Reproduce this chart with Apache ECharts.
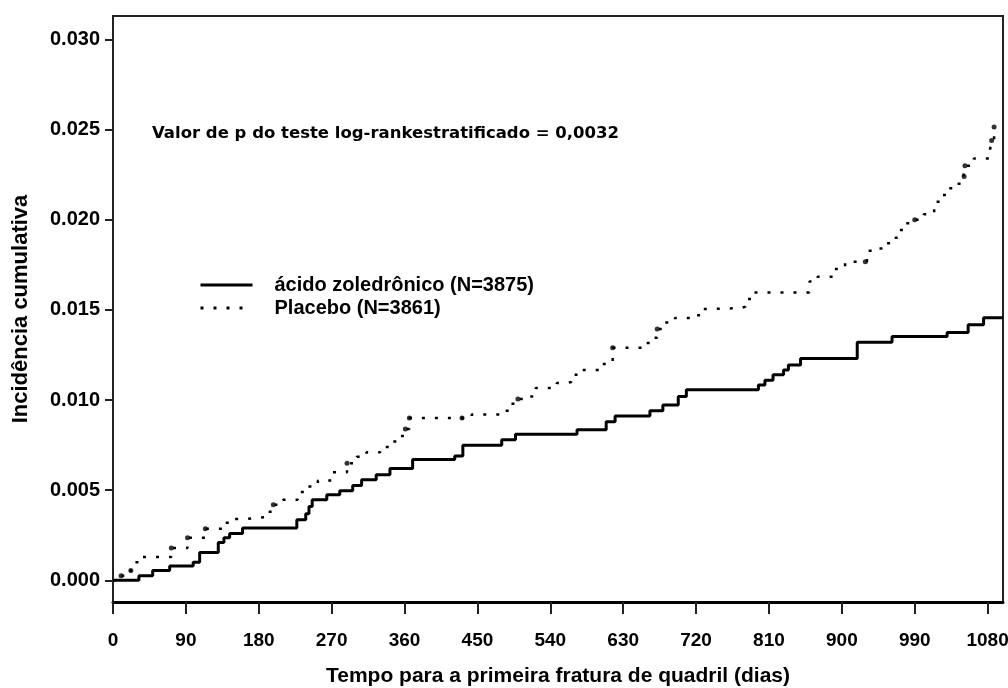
<!DOCTYPE html>
<html>
<head>
<meta charset="utf-8">
<script src="https://cdn.jsdelivr.net/npm/echarts@6/dist/echarts.min.js"></script>
<style>
html,body{margin:0;padding:0;background:#fff;}
#c{width:1008px;height:688px;}
</style>
</head>
<body>
<div id="c"></div>
<script>
// ---- data ----
var xTicks = [0, 90, 180, 270, 360, 450, 540, 630, 720, 810, 900, 990, 1080];
var yTicks = [0, 0.005, 0.010, 0.015, 0.020, 0.025, 0.030];
var seriesNames = ['ácido zoledrônico (N=3875)', 'Placebo (N=3861)'];
var annotation = 'Valor de p do teste log-rankestratificado = 0,0032';
var xTitle = 'Tempo para a primeira fratura de quadril (dias)';
var yTitle = 'Incidência cumulativa';

var zolDays = [0, 32, 49, 70, 99, 107, 130, 137, 144, 160, 227, 238, 242, 246, 264, 280, 296, 307, 325, 342, 370, 422, 432, 480, 497, 573, 609, 620, 663, 679, 698, 708, 797, 805, 815, 828, 834, 849, 919, 962, 1030, 1056, 1075, 1099];
var zolVals = [0, 0.00026, 0.00055, 0.0008, 0.001, 0.00155, 0.0021, 0.00236, 0.0026, 0.0029, 0.00336, 0.0037, 0.0041, 0.00447, 0.00475, 0.00497, 0.00526, 0.00558, 0.00586, 0.0062, 0.0067, 0.0069, 0.0075, 0.0078, 0.0081, 0.00835, 0.0088, 0.00912, 0.0094, 0.00973, 0.0102, 0.01057, 0.01084, 0.0111, 0.0114, 0.01167, 0.01195, 0.0123, 0.0132, 0.01352, 0.01374, 0.01417, 0.01457, 0.01457];

var plaDays = [0, 10, 22, 24, 37, 72, 92, 114, 137, 150, 165, 177, 188, 198, 210, 228, 239, 253, 270, 289, 301, 313, 330, 342, 354, 361, 366, 443, 481, 492, 500, 510, 522, 548, 560, 566, 575, 604, 617, 657, 667, 672, 678, 694, 719, 729, 740, 775, 781, 790, 860, 870, 889, 904, 931, 943, 953, 963, 970, 976, 990, 1001, 1014, 1021, 1031, 1042, 1050, 1052, 1063, 1083, 1085, 1088];
var plaVals = [0, 0.00026, 0.00055, 0.001, 0.0013, 0.0018, 0.00236, 0.00286, 0.0032, 0.0034, 0.00347, 0.0035, 0.0038, 0.0042, 0.00447, 0.0049, 0.0052, 0.00554, 0.006, 0.0065, 0.00685, 0.0071, 0.0074, 0.0077, 0.008, 0.0084, 0.009, 0.0092, 0.0094, 0.0098, 0.01006, 0.0102, 0.01067, 0.01094, 0.011, 0.0114, 0.01167, 0.012, 0.0129, 0.01317, 0.01345, 0.01394, 0.0143, 0.01455, 0.0147, 0.01505, 0.0151, 0.01518, 0.0156, 0.01596, 0.01657, 0.01684, 0.01727, 0.01767, 0.01828, 0.0184, 0.0187, 0.019, 0.01943, 0.0198, 0.02, 0.0203, 0.021, 0.02137, 0.02174, 0.022, 0.02238, 0.023, 0.0234, 0.0239, 0.0244, 0.02515];

var censorDays = [10, 22, 72, 92, 114, 198, 289, 361, 366, 431, 500, 617, 672, 929, 990, 1051, 1052, 1085, 1088];
var censorVals = [0.00026, 0.00055, 0.0018, 0.00236, 0.00286, 0.0042, 0.0065, 0.0084, 0.009, 0.009, 0.01006, 0.0129, 0.01394, 0.01767, 0.02, 0.0224, 0.023, 0.0244, 0.02515];

function pairs(a, b) { return a.map(function (v, i) { return [v, b[i]]; }); }

var FONT = '"Liberation Sans", Arial, sans-serif';
var chart = echarts.init(document.getElementById('c'), null, {renderer: 'canvas'});
chart.setOption({
  animation: false,
  backgroundColor: '#fff',
  grid: {left: 113, right: 5, top: 16, bottom: 86, show: true, borderColor: '#222', borderWidth: 2,
    containLabel: false, outerBoundsMode: 'none'},
  xAxis: {
    type: 'value', min: 0, max: 1099,
    name: xTitle, nameLocation: 'middle', nameGap: 64,
    nameTextStyle: {fontFamily: FONT, fontWeight: 'bold', fontSize: 21, color: '#000'},
    axisLine: {show: true, onZero: false, lineStyle: {color: '#000', width: 3}},
    axisTick: {show: true, length: 12, inside: false, customValues: xTicks, lineStyle: {color: '#222', width: 2}},
    axisLabel: {customValues: xTicks, margin: 29, fontFamily: FONT, fontWeight: 'bold', fontSize: 19, color: '#000',
      formatter: function (v) { return String(v); }},
    splitLine: {show: false}
  },
  yAxis: {
    type: 'value', min: -0.0012, max: 0.0313,
    name: yTitle, nameLocation: 'middle', nameGap: 81, nameRotate: 90,
    nameTextStyle: {fontFamily: FONT, fontWeight: 'bold', fontSize: 22, color: '#000'},
    axisLine: {show: true, onZero: false, lineStyle: {color: '#222', width: 2}},
    axisTick: {show: true, length: 8, inside: false, customValues: yTicks, lineStyle: {color: '#222', width: 2}},
    axisLabel: {customValues: yTicks, margin: 13, fontFamily: FONT, fontWeight: 'bold', fontSize: 20, color: '#000',
      formatter: function (v) { return v.toFixed(3); }},
    splitLine: {show: false}
  },
  legend: {
    orient: 'vertical', left: 199, top: 275, padding: 0, itemWidth: 52, itemHeight: 14, itemGap: 3,
    data: seriesNames,
    itemStyle: {opacity: 0},
    lineStyle: {width: 3},
    textStyle: {fontFamily: FONT, fontWeight: 'bold', fontSize: 20, color: '#000', padding: [0, 0, 0, 17]}
  },
  graphic: [{
    type: 'text', left: 152, top: 125,
    style: {text: annotation, font: 'bold 16.5px "DejaVu Sans", sans-serif', fill: '#000'}
  }],
  series: [
    {
      name: seriesNames[0], type: 'line', step: 'end', symbol: 'none',
      data: pairs(zolDays, zolVals),
      lineStyle: {color: '#000', width: 3, type: 'solid'},
      itemStyle: {color: '#000'}
    },
    {
      name: seriesNames[1], type: 'line', step: 'end', symbol: 'none',
      data: pairs(plaDays, plaVals),
      lineStyle: {color: '#000', width: 2.5, type: [3, 10], cap: 'butt'},
      itemStyle: {color: '#000'}
    },
    {
      name: 'censor', type: 'scatter', symbol: 'circle', symbolSize: 5,
      data: pairs(censorDays, censorVals),
      itemStyle: {color: '#000'}, silent: true
    }
  ]
});
</script>
</body>
</html>
